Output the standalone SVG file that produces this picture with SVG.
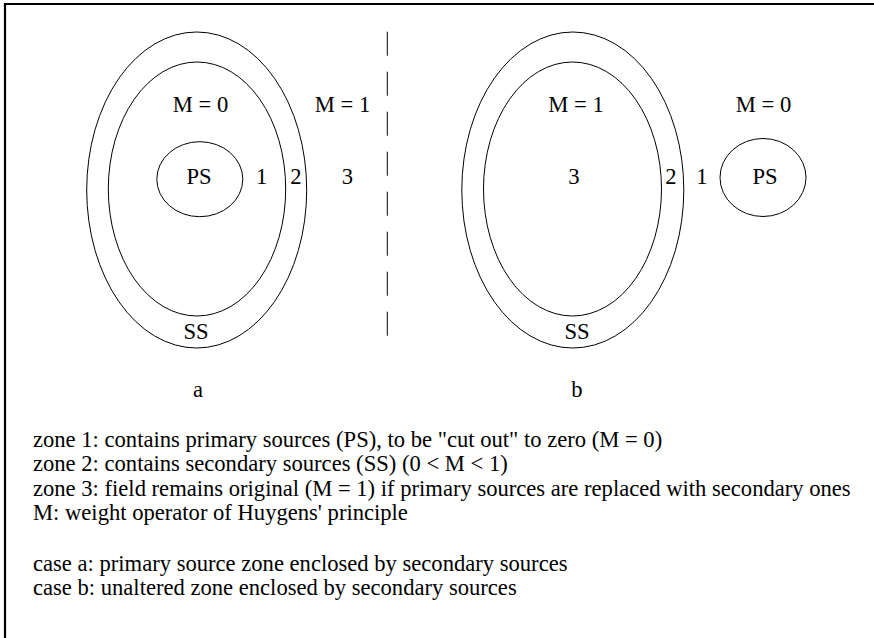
<svg xmlns="http://www.w3.org/2000/svg" width="874" height="638" viewBox="0 0 874 638">
<style>
.sh{fill:none;stroke:#000;stroke-width:1}
.t{font-family:"Liberation Serif","Times New Roman",serif;font-size:22.6px;fill:#000}
.c{text-anchor:middle}
</style>
<rect width="874" height="638" fill="#fff"/>
<g id="frame">
<line x1="4" y1="4" x2="874" y2="4" stroke="#000" stroke-width="2.2"/>
<line x1="5" y1="3" x2="5" y2="638" stroke="#000" stroke-width="2.2"/>
</g>
<g id="case-a">
<g id="a-outer-SS"><ellipse class="sh" cx="196.7" cy="190" rx="110" ry="158"/></g>
<g id="a-inner"><ellipse class="sh" cx="197" cy="189" rx="88.7" ry="127"/></g>
<g id="a-PS"><ellipse class="sh" cx="199.8" cy="179.2" rx="43" ry="37.5"/><text class="t c" x="199" y="184">PS</text></g>
<text class="t c" x="200.5" y="112">M = 0</text>
<text class="t c" x="342.5" y="112">M = 1</text>
<text class="t c" x="261.7" y="184">1</text>
<text class="t c" x="296" y="184">2</text>
<text class="t c" x="347.5" y="184">3</text>
<text class="t c" x="196" y="339">SS</text>
<text class="t c" x="198" y="397">a</text>
</g>
<g id="divider">
<line x1="387.3" y1="31.7" x2="387.3" y2="336" stroke="#000" stroke-width="1" stroke-dasharray="24 16"/>
</g>
<g id="case-b">
<g id="b-outer-SS"><ellipse class="sh" cx="572.8" cy="190" rx="111" ry="158"/></g>
<g id="b-inner"><ellipse class="sh" cx="572.5" cy="189" rx="89" ry="127"/></g>
<g id="b-PS"><ellipse class="sh" cx="763" cy="177.5" rx="43" ry="39"/><text class="t c" x="765" y="184">PS</text></g>
<text class="t c" x="576" y="112">M = 1</text>
<text class="t c" x="763.5" y="112">M = 0</text>
<text class="t c" x="574" y="184">3</text>
<text class="t c" x="671" y="184">2</text>
<text class="t c" x="702" y="184">1</text>
<text class="t c" x="577" y="339">SS</text>
<text class="t c" x="577" y="397">b</text>
</g>
<g id="legend" class="t">
<text x="33" y="446.5">zone 1: contains primary sources (PS), to be "cut out" to zero (M = 0)</text>
<text x="33" y="471">zone 2: contains secondary sources (SS) (0 &lt; M &lt; 1)</text>
<text x="33" y="495.5">zone 3: field remains original (M = 1) if primary sources are replaced with secondary ones</text>
<text x="33" y="520">M: weight operator of Huygens' principle</text>
<text x="33" y="571">case a: primary source zone enclosed by secondary sources</text>
<text x="33" y="595">case b: unaltered zone enclosed by secondary sources</text>
</g>
</svg>
